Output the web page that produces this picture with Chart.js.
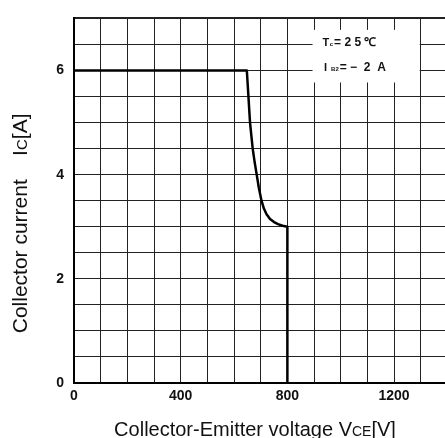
<!DOCTYPE html>
<html>
<head>
<meta charset="utf-8">
<script src="https://cdn.jsdelivr.net/npm/chart.js@4/dist/chart.umd.min.js"></script>
<style>
  html, body { margin: 0; padding: 0; background: #fff; }
  #wrap { width: 445px; height: 438px; }
</style>
</head>
<body>
<div id="wrap"><canvas id="chart"></canvas></div>
<script>
// values
const voltage = [0, 648, 651, 654, 657, 660, 665, 670, 677, 685, 693, 703, 712, 722, 735, 750, 765, 782, 800, 800];
const current = [6, 6, 5.75, 5.5, 5.25, 5.0, 4.75, 4.5, 4.25, 4.0, 3.75, 3.5, 3.35, 3.24, 3.15, 3.09, 3.05, 3.02, 3.0, 0];
const xLabels = [0, 400, 800, 1200];
const yLabels = [0, 2, 4, 6];
const xGrid = [0, 100, 200, 300, 400, 500, 600, 700, 800, 900, 1000, 1100, 1200, 1300];
const yGrid = [0, 0.5, 1, 1.5, 2, 2.5, 3, 3.5, 4, 4.5, 5, 5.5, 6, 6.5, 7];
const conditions = [
  ['T', 'c', '= 2 5 ℃'],
  ['I', 'B2', '= −  2  A']
];
// axis titles, [text, small subscript-ish part, rest]
const xTitle = ['Collector-Emitter voltage V', 'CE', '[V]'];
const yTitle = ['Collector current    I', 'C', '[A]'];

const FONT = '"Liberation Sans", Arial, sans-serif';
Chart.defaults.font.family = FONT;
Chart.defaults.color = '#111';

// draws a title made of pieces, the middle one in a smaller size
function drawPieces(ctx, parts, size, small) {
  const sizes = [size, small, size];
  let total = 0;
  parts.forEach((p, i) => {
    ctx.font = sizes[i] + 'px ' + FONT;
    total += ctx.measureText(p).width;
  });
  let px = -total / 2;
  parts.forEach((p, i) => {
    ctx.font = sizes[i] + 'px ' + FONT;
    ctx.fillText(p, px, 0);
    px += ctx.measureText(p).width;
  });
}

const axisTitles = {
  id: 'axisTitles',
  afterDraw(chart) {
    const { ctx, chartArea } = chart;
    ctx.save();
    ctx.fillStyle = '#111';
    ctx.textBaseline = 'alphabetic';
    ctx.textAlign = 'left';

    ctx.save();
    ctx.translate(chartArea.left + 181, chartArea.bottom + 53);
    drawPieces(ctx, xTitle, 20, 14);
    ctx.restore();

    ctx.save();
    ctx.translate(27, chartArea.top + 205);
    ctx.rotate(-Math.PI / 2);
    drawPieces(ctx, yTitle, 21, 15);
    ctx.restore();

    ctx.restore();
  }
};

// white box with the test conditions, top right of the grid
const conditionBox = {
  id: 'conditionBox',
  beforeDatasetsDraw(chart) {
    const { ctx, scales: { x, y } } = chart;
    const left = x.getPixelForValue(900) - 1.5;
    const right = x.getPixelForValue(1300) - 1;
    const top = y.getPixelForValue(6.78);
    const bottom = y.getPixelForValue(5.77);
    ctx.save();
    ctx.fillStyle = '#fff';
    ctx.fillRect(left, top, right - left, bottom - top);

    ctx.fillStyle = '#111';
    ctx.textBaseline = 'alphabetic';
    conditions.forEach((row, i) => {
      let px = left + 10 + (i ? 1.5 : 0);
      const base = top + 16 + i * 25;
      ctx.font = 'bold 11px ' + FONT;
      ctx.fillText(row[0], px, base);
      px += ctx.measureText(row[0]).width + (i ? 4 : 0.5);
      ctx.font = 'bold 6px ' + FONT;
      ctx.fillText(row[1], px, base);
      px += ctx.measureText(row[1]).width + 1;
      ctx.font = 'bold 12px ' + FONT;
      ctx.fillText(row[2], px, base);
    });
    ctx.restore();
  }
};

new Chart(document.getElementById('chart'), {
  type: 'scatter',
  data: {
    datasets: [{
      data: voltage.map((v, i) => ({ x: v, y: current[i] })),
      showLine: true,
      borderColor: '#000',
      borderWidth: 2.5,
      borderJoinStyle: 'round',
      pointRadius: 0,
      tension: 0,
      fill: false
    }]
  },
  options: {
    responsive: true,
    maintainAspectRatio: false,
    animation: false,
    layout: { padding: { top: 11, right: 0, left: 0, bottom: 0 } },
    plugins: { legend: { display: false }, tooltip: { enabled: false } },
    scales: {
      x: {
        type: 'linear',
        min: 0,
        max: 1391,
        afterBuildTicks: s => { s.ticks = xGrid.map(v => ({ value: v })); },
        afterFit: s => { s.height = 55; },
        ticks: {
          autoSkip: false,
          maxRotation: 0,
          padding: 5,
          font: { size: 14, weight: 'bold' },
          color: '#111',
          callback: v => xLabels.includes(v) ? String(v) : ''
        },
        grid: { color: '#222', lineWidth: 1, drawTicks: false },
        border: { color: '#000', width: 2 }
      },
      y: {
        min: 0,
        max: 7,
        afterBuildTicks: s => { s.ticks = yGrid.map(v => ({ value: v })); },
        afterFit: s => { s.width = 74; },
        ticks: {
          autoSkip: false,
          padding: 10,
          font: { size: 14, weight: 'bold' },
          color: '#111',
          callback: v => yLabels.includes(v) ? String(v) : ''
        },
        grid: {
          color: '#222',
          lineWidth: c => c.tick && c.tick.value === 7 ? 2 : 1,
          drawTicks: false
        },
        border: { color: '#000', width: 2 }
      }
    }
  },
  plugins: [conditionBox, axisTitles]
});
</script>
</body>
</html>
